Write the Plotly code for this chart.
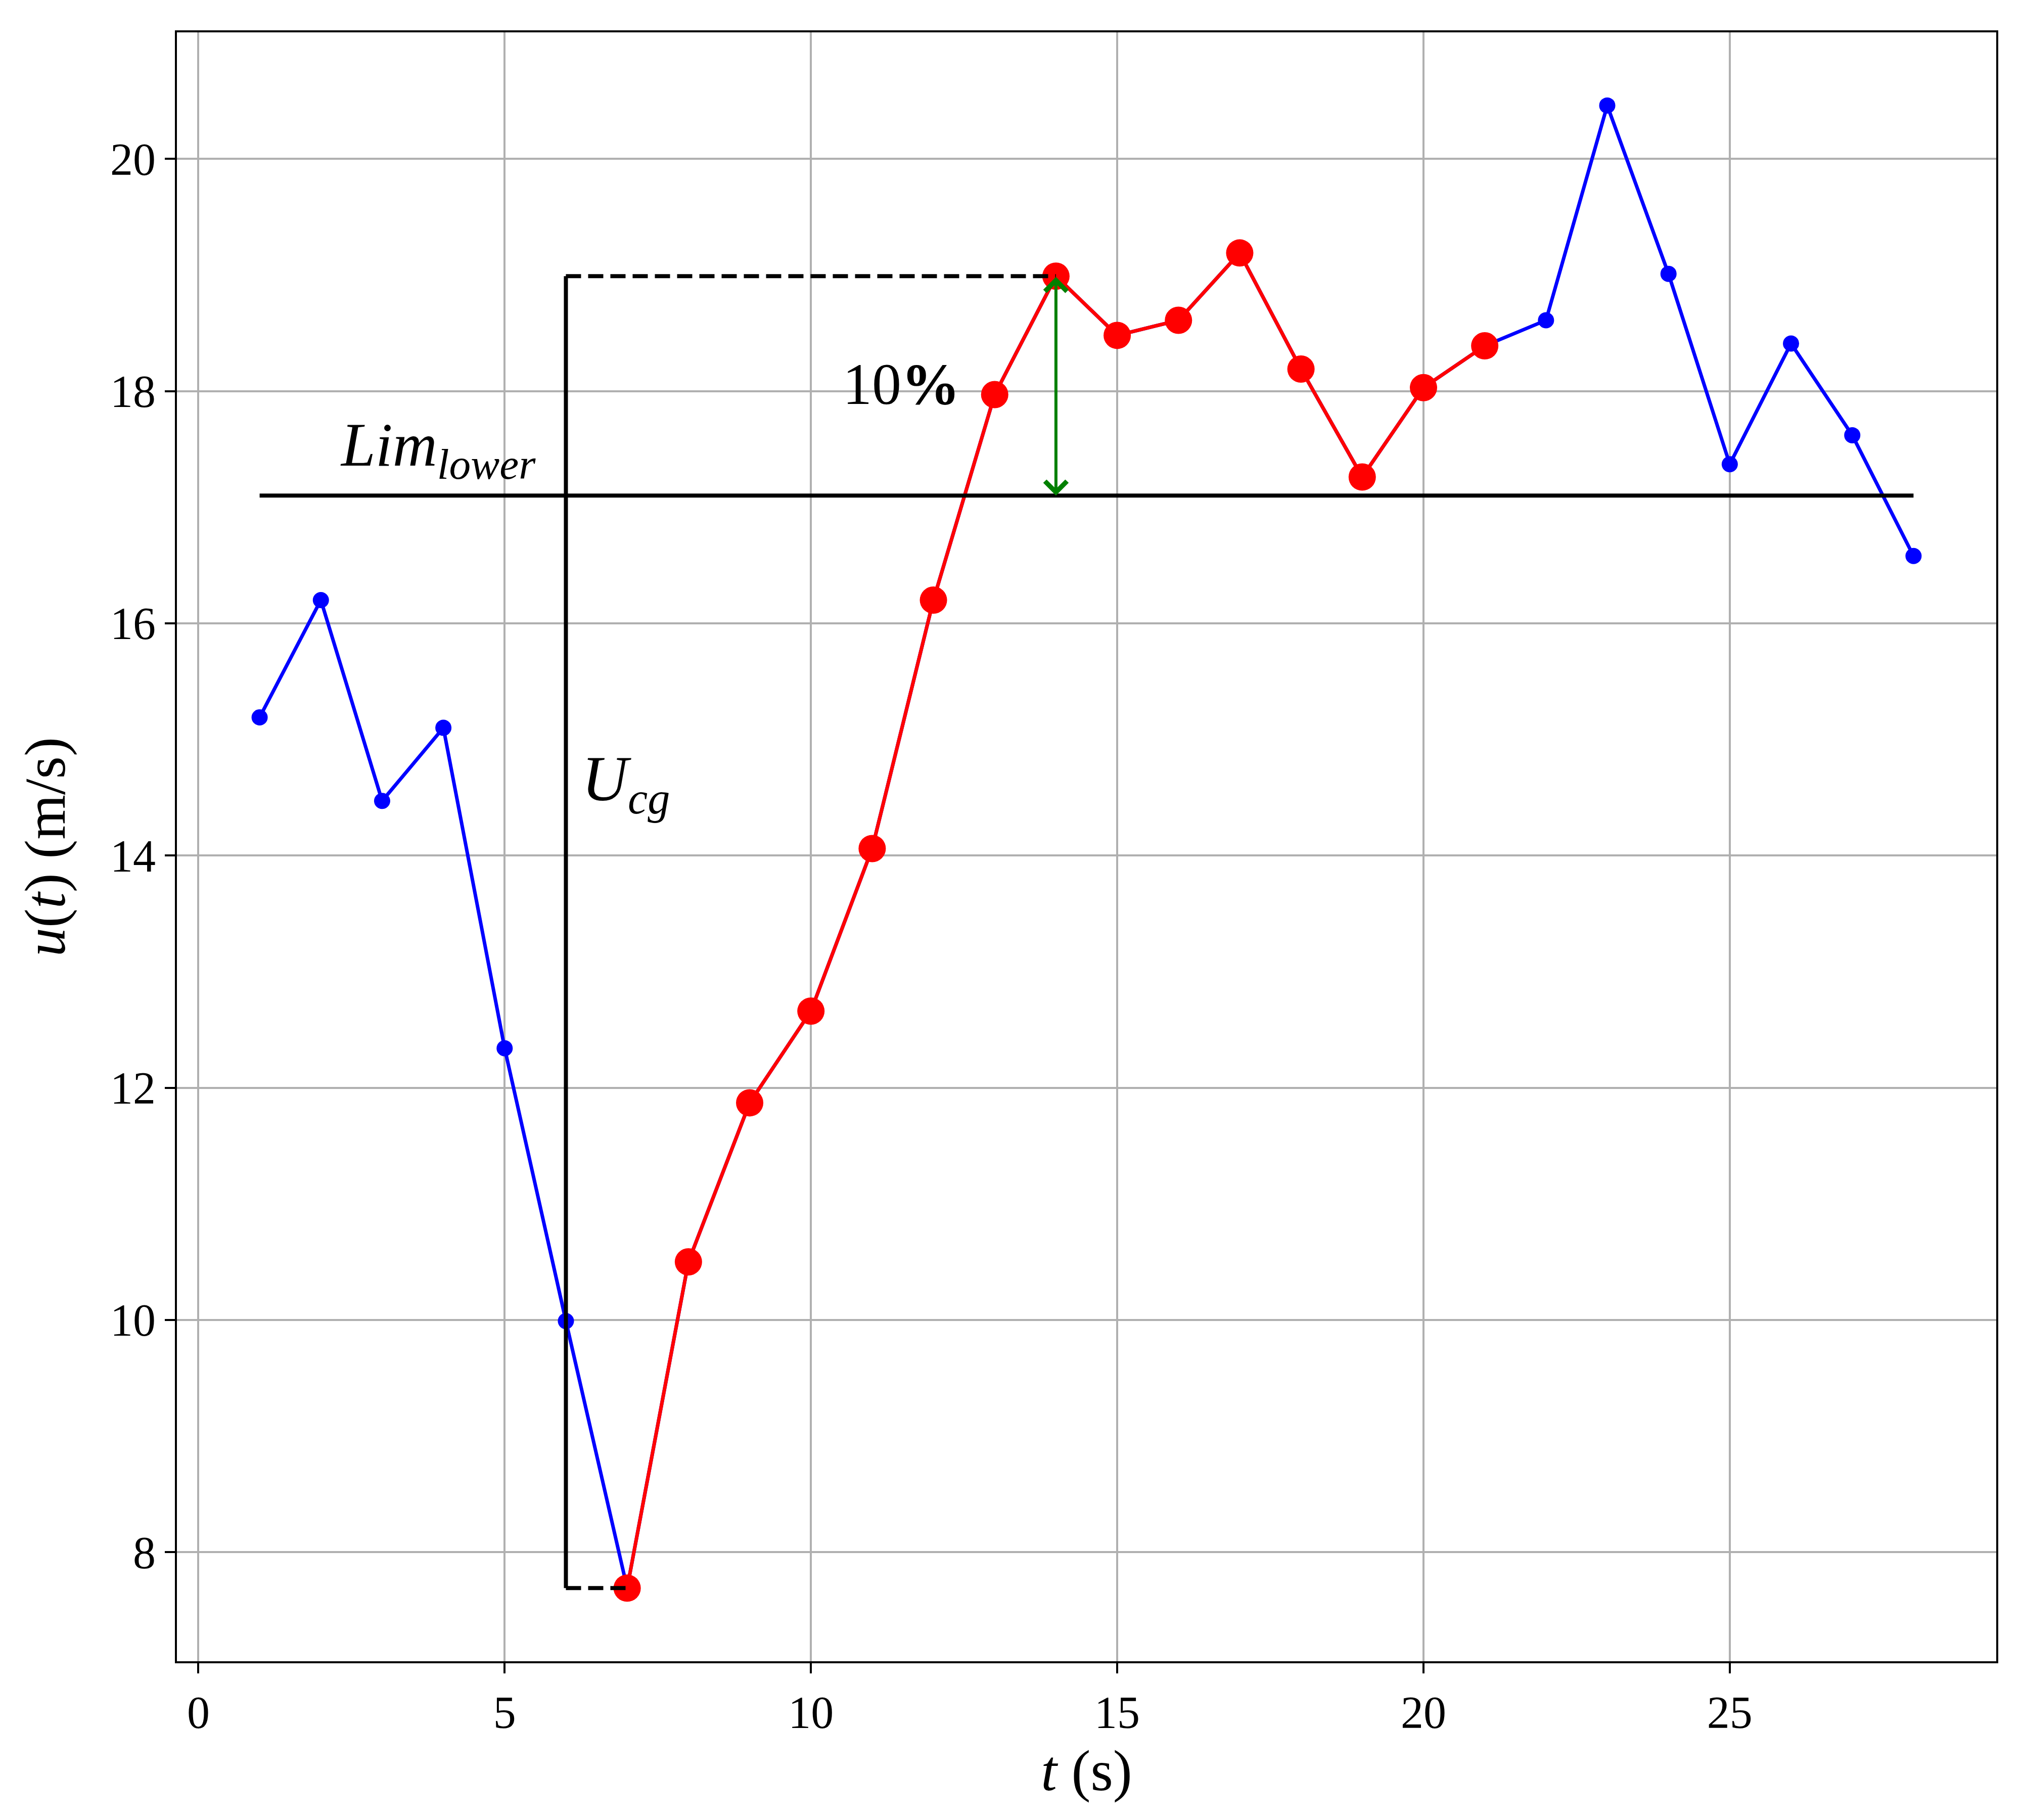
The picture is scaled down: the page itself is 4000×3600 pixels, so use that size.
import plotly.graph_objects as go

# ---- data ----
t = list(range(1, 29))
u = [15.19, 16.20, 14.47, 15.10, 12.34, 9.99, 7.69, 10.50, 11.87, 12.66,
     14.06, 16.20, 17.97, 18.99, 18.48, 18.61, 19.19, 18.19, 17.26, 18.03,
     18.39, 18.61, 20.46, 19.01, 17.37, 18.41, 17.62, 16.58]
gust_start, gust_end = 7, 21          # red (gust) segment, in t
t_min_idx, t_peak_idx = 6, 13         # indices of U min (t=7) and peak (t=14)
ucg_x = 6                             # x of the U_cg vertical marker line
lim_lower = 17.1
x_ticks = [0, 5, 10, 15, 20, 25]
y_ticks = [8, 10, 12, 14, 16, 18, 20]

t_red = [x for x in t if gust_start <= x <= gust_end]
u_red = [u[i] for i, x in enumerate(t) if gust_start <= x <= gust_end]
u_min = u[t_min_idx]
u_peak = u[t_peak_idx]
t_min = t[t_min_idx]
t_peak = t[t_peak_idx]

FONT = "Liberation Serif, Times New Roman, serif"
fig = go.Figure()

fig.add_trace(go.Scatter(x=t, y=u, mode="lines+markers",
                         line=dict(color="#0000ff", width=7),
                         marker=dict(color="#0000ff", size=32),
                         showlegend=False))
fig.add_trace(go.Scatter(x=t_red, y=u_red, mode="lines+markers",
                         line=dict(color="#ff0000", width=7),
                         marker=dict(color="#ff0000", size=54),
                         showlegend=False))

# lim lower line
fig.add_trace(go.Scatter(x=[t[0], t[-1]], y=[lim_lower, lim_lower], mode="lines",
                         line=dict(color="black", width=8), showlegend=False))
# vertical U_cg line
fig.add_trace(go.Scatter(x=[ucg_x, ucg_x], y=[u_min, u_peak], mode="lines",
                         line=dict(color="black", width=8), showlegend=False))
# dashed helpers
fig.add_trace(go.Scatter(x=[ucg_x, t_peak], y=[u_peak, u_peak], mode="lines",
                         line=dict(color="black", width=8, dash="30px,14px"),
                         showlegend=False))
fig.add_trace(go.Scatter(x=[ucg_x, t_min], y=[u_min, u_min], mode="lines",
                         line=dict(color="black", width=8, dash="30px,14px"),
                         showlegend=False))

# green double arrow
fig.add_annotation(x=t_peak, y=lim_lower, ax=t_peak, ay=u_peak,
                   xref="x", yref="y", axref="x", ayref="y",
                   showarrow=True, arrowhead=4, startarrowhead=4,
                   arrowside="end+start", arrowcolor="#008000",
                   arrowwidth=6, arrowsize=1.4, startarrowsize=1.4, text="")

fig.add_annotation(x=12.45, y=18.06, xref="x", yref="y", text="10<b>%</b>",
                   showarrow=False, xanchor="right", yanchor="middle",
                   font=dict(family=FONT, size=116, color="black"))
fig.add_annotation(x=2.3, y=17.5, xref="x", yref="y",
                   text="<i>Lim</i><sub><i>lower</i></sub>",
                   showarrow=False, xanchor="left", yanchor="middle",
                   font=dict(family=FONT, size=122, color="black"))
fig.add_annotation(x=6.24, y=14.62, xref="x", yref="y",
                   text="<i>U</i><sub><i>cg</i></sub>",
                   showarrow=False, xanchor="left", yanchor="middle",
                   font=dict(family=FONT, size=126, color="black"))

axis_common = dict(showline=True, mirror=True, linecolor="black", linewidth=4,
                   showgrid=True, gridcolor="#b0b0b0", gridwidth=4,
                   ticks="outside", ticklen=20, tickwidth=4, tickcolor="black",
                   zeroline=False,
                   tickfont=dict(family=FONT, size=90, color="black"))

fig.update_xaxes(range=[-0.35, 29.35], tickvals=x_ticks,
                 title=dict(text="<i>t</i> (s)", standoff=26,
                            font=dict(family=FONT, size=114, color="black")),
                 **axis_common)
fig.update_yaxes(range=[7.06, 21.09], tickvals=y_ticks,
                 title=dict(text="<i>u</i>(<i>t</i>) (m/s)", standoff=52,
                            font=dict(family=FONT, size=114, color="black")),
                 **axis_common)

fig.update_layout(width=4000, height=3600,
                  margin=dict(l=342, r=59, t=56, b=322),
                  plot_bgcolor="white", paper_bgcolor="white",
                  showlegend=False)

fig.write_html("out.html")
